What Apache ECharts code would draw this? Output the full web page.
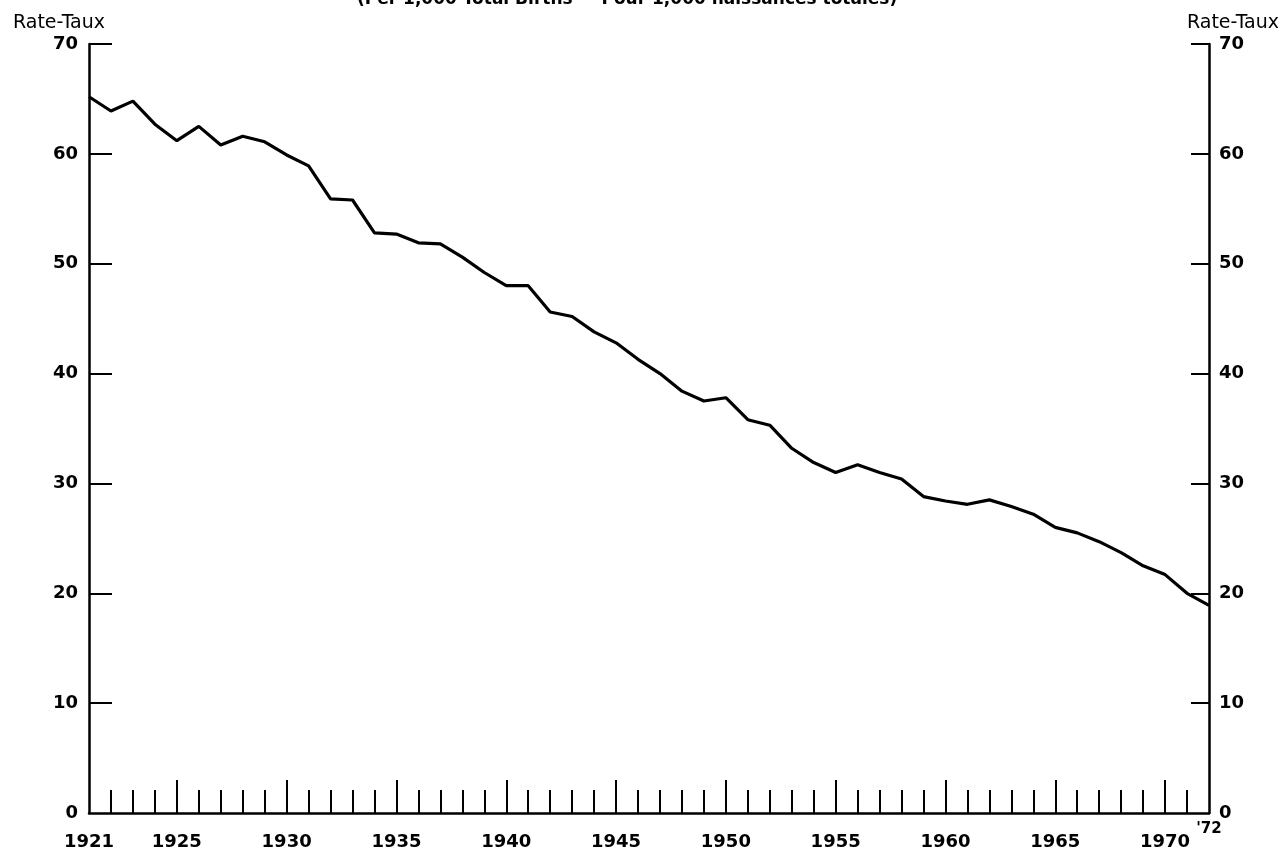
<!DOCTYPE html>
<html>
<head>
<meta charset="utf-8">
<script src="https://cdn.jsdelivr.net/npm/echarts@6/dist/echarts.min.js"></script>
<style>html,body{margin:0;padding:0;background:#fff;}#c{width:1288px;height:851px;}</style>
</head>
<body>
<div id="c"></div>
<script>
const titleText = '(Per 1,000 Total Births — Pour 1,000 naissances totales)';
const axisName = 'Rate-Taux';
const years = [1921,1922,1923,1924,1925,1926,1927,1928,1929,1930,1931,1932,1933,1934,1935,1936,1937,1938,1939,1940,1941,1942,1943,1944,1945,1946,1947,1948,1949,1950,1951,1952,1953,1954,1955,1956,1957,1958,1959,1960,1961,1962,1963,1964,1965,1966,1967,1968,1969,1970,1971,1972];
const rates = [65.2,63.9,64.8,62.7,61.2,62.5,60.8,61.6,61.1,59.9,58.9,55.9,55.8,52.8,52.7,51.9,51.8,50.6,49.2,48.0,48.0,45.6,45.2,43.8,42.8,41.3,40.0,38.4,37.5,37.8,35.8,35.3,33.2,31.9,31.0,31.7,31.0,30.4,28.8,28.4,28.1,28.5,27.9,27.2,26.0,25.5,24.7,23.7,22.5,21.7,20.0,18.9];
const yearLabels = [1921,1925,1930,1935,1940,1945,1950,1955,1960,1965,1970];
const majorTicks = [1925,1930,1935,1940,1945,1950,1955,1960,1965,1970];
const minorTicks = years.filter(y => y > 1921 && y < 1972 && y % 5 !== 0);
const endLabel = [1972];
const yTicks = [0,10,20,30,40,50,60,70];

const font = '"DejaVu Sans", sans-serif';
const chart = echarts.init(document.getElementById('c'), null, {renderer: 'canvas'});
const lbl = {color: '#000', fontFamily: font, fontWeight: 'bold', fontSize: 18};
chart.setOption({
  animation: false,
  backgroundColor: '#fff',
  title: {
    text: titleText, left: 352, top: -14,
    textStyle: {color: '#000', fontFamily: font, fontWeight: 'bold', fontSize: 17}
  },
  grid: {left: 89, right: 79, top: 44, bottom: 36, containLabel: false},
  xAxis: [{
    type: 'value', min: 1921, max: 1972, interval: 1,
    axisLine: {show: true, lineStyle: {color: '#000', width: 2.5}},
    axisTick: {show: true, inside: true, length: 23, customValues: minorTicks, lineStyle: {color: '#000', width: 2}},
    axisLabel: Object.assign({customValues: yearLabels, margin: 20, formatter: v => String(v)}, lbl),
    splitLine: {show: false}
  }, {
    type: 'value', min: 1921, max: 1972, interval: 1, position: 'bottom',
    axisLine: {show: false},
    axisTick: {show: true, inside: true, length: 33, customValues: majorTicks, lineStyle: {color: '#000', width: 2}},
    axisLabel: {customValues: endLabel, margin: 9, formatter: v => "'" + String(v).slice(2),
      color: '#000', fontFamily: font, fontWeight: 'bold', fontSize: 15},
    splitLine: {show: false}
  }],
  yAxis: [{
    type: 'value', min: 0, max: 70, interval: 10, position: 'left',
    name: axisName, nameLocation: 'end', nameGap: 11,
    nameTextStyle: {color: '#000', fontFamily: font, fontSize: 19, align: 'center', padding: [0, 60, 0, 0]},
    axisLine: {show: true, lineStyle: {color: '#000', width: 2.5}},
    axisTick: {show: true, inside: true, length: 23, customValues: yTicks.filter(v => v > 0), lineStyle: {color: '#000', width: 2}},
    axisLabel: Object.assign({margin: 11, customValues: yTicks}, lbl),
    splitLine: {show: false}
  }, {
    type: 'value', min: 0, max: 70, interval: 10, position: 'right',
    name: axisName, nameLocation: 'end', nameGap: 11,
    nameTextStyle: {color: '#000', fontFamily: font, fontSize: 19, align: 'center', padding: [0, 0, 0, 48]},
    axisLine: {show: true, lineStyle: {color: '#000', width: 2.5}},
    axisTick: {show: true, inside: true, length: 18, customValues: yTicks.filter(v => v > 0), lineStyle: {color: '#000', width: 2}},
    axisLabel: Object.assign({margin: 10, customValues: yTicks}, lbl),
    splitLine: {show: false}
  }],
  series: [{
    type: 'line',
    data: years.map((y, i) => [y, rates[i]]),
    xAxisIndex: 0, yAxisIndex: 0,
    showSymbol: false, symbol: 'none',
    lineStyle: {color: '#000', width: 3.2},
    z: 5
  }]
});
</script>
</body>
</html>
